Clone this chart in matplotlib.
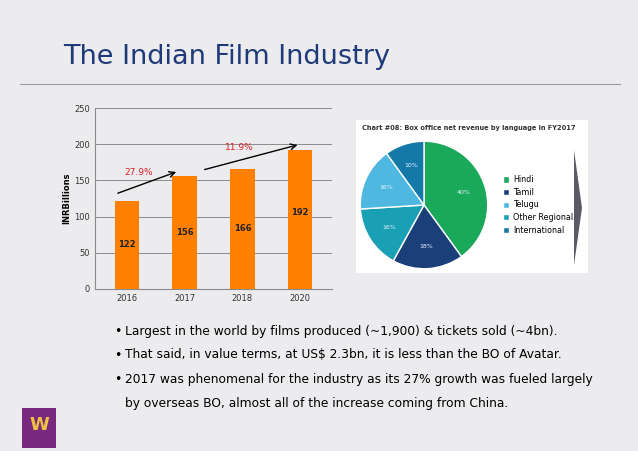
import numpy as np
import matplotlib.pyplot as plt
from matplotlib.patches import Rectangle, Polygon

# data
years = ["2016", "2017", "2018", "2020"]
revenue = [122, 156, 166, 192]
growth_labels = ["27.9%", "11.9%"]

# pie slices in clockwise order from 12 o'clock
pie_langs = ["Hindi", "Tamil", "Other Regional", "Telugu", "International"]
pie_shares = [40, 18, 16, 16, 10]
pie_colors = ["#1aa85a", "#1b3f78", "#1aa0b5", "#4fb8e0", "#1478a8"]
legend_order = ["Hindi", "Tamil", "Telugu", "Other Regional", "International"]

bullets = [
    "Largest in the world by films produced (~1,900) & tickets sold (~4bn).",
    "That said, in value terms, at US$ 2.3bn, it is less than the BO of Avatar.",
    "2017 was phenomenal for the industry as its 27% growth was fueled largely",
    "by overseas BO, almost all of the increase coming from China.",
]

W, H = 638, 451
fig = plt.figure(figsize=(W / 100, H / 100), dpi=100)
fig.patch.set_facecolor("#ecebee")


def fx(px):
    return px / W


def fy(py):
    return 1 - py / H


# title and rule
fig.text(fx(63), fy(57), "The Indian Film Industry", fontsize=19.5, color="#1f3a78",
         va="center", ha="left")
fig.add_artist(plt.Line2D([fx(20), fx(620)], [fy(84), fy(84)], color="#9a9aa0", lw=0.8))

# bar chart
ax = fig.add_axes([fx(95), fy(289), fx(237), (289 - 108) / H])
ax.set_facecolor("none")
x = np.arange(len(years))
ax.bar(x, revenue, width=0.42, color="#ff8000", zorder=3)
for xi, v in zip(x, revenue):
    ax.text(xi, v * 0.5 if v < 190 else v * 0.55, str(v), ha="center", va="center",
            fontsize=6, fontweight="bold", color="#222222", zorder=4)
ax.set_ylim(0, 250)
ax.set_xlim(-0.55, 3.55)
ax.set_yticks(range(0, 251, 50))
ax.set_xticks(x)
ax.set_xticklabels(years)
ax.tick_params(labelsize=6, length=0, colors="#333333")
ax.yaxis.grid(True, color="#8a8a8a", lw=0.7, zorder=0)
for s in ["top", "right"]:
    ax.spines[s].set_visible(False)
ax.spines["left"].set_color("#8a8a8a")
ax.spines["bottom"].set_color("#8a8a8a")
ax.set_ylabel("INRBillions", fontsize=6, fontweight="bold", labelpad=2)
ax.annotate("", xy=(0.9, 163), xytext=(-0.2, 131),
            arrowprops=dict(arrowstyle="->", color="black", lw=1))
ax.annotate("", xy=(3.0, 200), xytext=(1.3, 164),
            arrowprops=dict(arrowstyle="->", color="black", lw=1))
ax.text(0.2, 158, growth_labels[0], color="#e0202a", fontsize=6.5, ha="center")
ax.text(1.95, 192, growth_labels[1], color="#e0202a", fontsize=6.5, ha="center")

# pie panel
fig.add_artist(Rectangle((fx(356), fy(273)), fx(232), (273 - 120) / H,
                         transform=fig.transFigure, facecolor="white", edgecolor="none",
                         zorder=-1))
fig.text(fx(362), fy(128), "Chart #08: Box office net revenue by language in FY2017",
         fontsize=4.8, fontweight="bold", color="#333333", va="center")
pax = fig.add_axes([fx(359), fy(270), fx(130), 130 / H])
wedges, _ = pax.pie(pie_shares, colors=pie_colors, startangle=90, counterclock=False,
                    wedgeprops=dict(edgecolor="white", linewidth=1))
for w, s in zip(wedges, pie_shares):
    ang = np.deg2rad((w.theta1 + w.theta2) / 2)
    pax.text(0.65 * np.cos(ang), 0.65 * np.sin(ang), f"{s}%", ha="center", va="center",
             fontsize=4.5, color="#e8f4ff")
pax.set_xlim(-1.02, 1.02)
pax.set_ylim(-1.02, 1.02)
pax.set_aspect("equal")
handles = [wedges[pie_langs.index(n)] for n in legend_order]
pax.legend(handles, legend_order, loc="center left", bbox_to_anchor=(1.08, 0.5),
           frameon=False, fontsize=5.8, handlelength=0.8, handleheight=0.8,
           labelspacing=0.45, handletextpad=0.5, borderaxespad=0)
fig.add_artist(Polygon([[fx(574), fy(150)], [fx(582), fy(208)], [fx(574), fy(265)]],
                       closed=True, transform=fig.transFigure, facecolor="#5a5a66",
                       edgecolor="none"))

# bullets
ys = [331, 355, 380, 404]
for i, (yb, t) in enumerate(zip(ys, bullets)):
    if i < 3:
        fig.text(fx(114), fy(yb), "•", fontsize=9, va="center", ha="left")
    fig.text(fx(125), fy(yb), t, fontsize=8.8, va="center", ha="left")

# logo
fig.add_artist(Rectangle((fx(22), fy(448)), fx(34), 40 / H, transform=fig.transFigure,
                         facecolor="#7a2a7e", edgecolor="none"))
fig.text(fx(39), fy(425), "W", fontsize=13, fontweight="bold", color="#f0c040",
         ha="center", va="center")

fig.savefig("out.png", dpi=100, facecolor=fig.get_facecolor())
